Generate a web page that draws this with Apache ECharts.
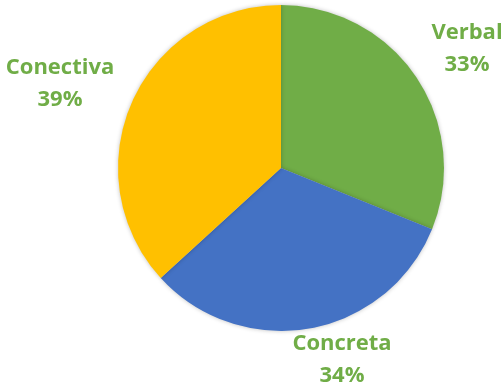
<!DOCTYPE html>
<html><head><meta charset="utf-8">
<script src="https://cdn.jsdelivr.net/npm/echarts@6/dist/echarts.min.js"></script>
<style>html,body{margin:0;padding:0;background:#fff}#c{width:504px;height:389px}</style>
</head><body><div id="c"></div>
<script>
const categories = ['Verbal', 'Concreta', 'Conectiva'];
const values = [33, 34, 39];
const colors = ['#70AD47', '#4472C4', '#FFC000'];
const labelPos = [[467, 49], [342, 360], [60, 84]];

const chart = echarts.init(document.getElementById('c'), null, {renderer: 'canvas'});
chart.setOption({
  animation: false,
  series: [{
    type: 'pie',
    center: [281, 168],
    radius: 163,
    startAngle: 90,
    clockwise: true,
    data: categories.map((n, i) => ({name: n, value: values[i], itemStyle: {color: colors[i]}})),
    itemStyle: {shadowBlur: 4, shadowColor: 'rgba(0,0,0,0.25)'},
    label: {
      show: true,
      position: 'outside',
      alignTo: 'none',
      overflow: 'none',
      formatter: p => p.name + '\n' + p.value + '%',
      color: '#70AD47',
      fontFamily: 'Open Sans',
      fontWeight: 'bold',
      fontSize: 22,
      lineHeight: 32,
      align: 'center'
    },
    labelLine: {show: false},
    labelLayout: p => ({x: labelPos[p.dataIndex][0], y: labelPos[p.dataIndex][1], align: 'center', verticalAlign: 'middle'}),
    emphasis: {disabled: true}
  }]
});
</script></body></html>
